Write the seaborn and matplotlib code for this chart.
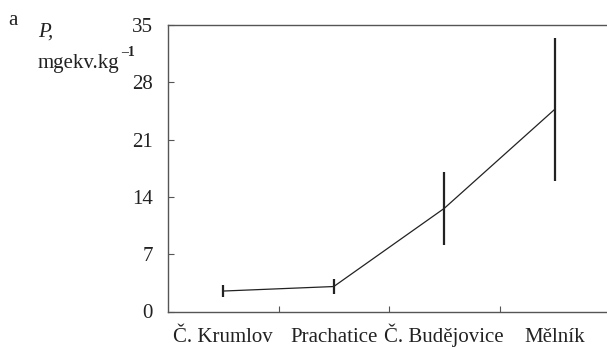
import matplotlib
matplotlib.use("Agg")
import matplotlib.pyplot as plt
import seaborn as sns
import pandas as pd

categories = ["Č. Krumlov", "Prachatice", "Č. Budějovice", "Mělník"]
values = [2.5, 3.05, 12.6, 24.7]
errors = [0.7, 0.9, 4.45, 8.7]
yticks = [0, 7, 14, 21, 28, 35]

sns.set_theme(style="white")
plt.rcParams["font.family"] = ["Liberation Serif", "DejaVu Serif"]

df = pd.DataFrame({"site": categories, "P": values, "err": errors})

W, H = 607, 349
fig = plt.figure(figsize=(W / 100, H / 100), dpi=100)
ax = fig.add_axes([168 / W, (H - 311.5) / H, 442 / W, 286.5 / H])

sns.lineplot(data=df, x="site", y="P", ax=ax, color="#222222", linewidth=0.9,
             sort=False)
xpos = list(range(len(categories)))
ax.errorbar(xpos, df["P"], yerr=df["err"], fmt="none", ecolor="#222222",
            elinewidth=1.6, capsize=0)

ax.set_xlim(-0.5, len(categories) - 0.5)
ax.set_ylim(0, 35)
ax.set_yticks(yticks)
ax.set_yticklabels([str(t) for t in yticks])
ax.set_xticks(xpos)
ax.set_xticklabels(categories, va="baseline")
ax.set_xticks([0.5, 1.5, 2.5], minor=True)
ax.set_xlabel("")
ax.set_ylabel("")

for s in ["left", "bottom", "top"]:
    ax.spines[s].set_visible(True)
    ax.spines[s].set_color("#555555")
    ax.spines[s].set_linewidth(1.0)
ax.spines["right"].set_visible(False)

ax.tick_params(axis="x", which="major", length=0, labelsize=15, pad=22.3,
               colors="#222222")
ax.tick_params(axis="x", which="minor", direction="in", length=4, width=0.8,
               color="#555555", bottom=True)
ax.tick_params(axis="y", direction="in", length=4, width=0.8, color="#555555",
               labelsize=15, pad=11, labelcolor="#222222", left=True)

fig.text(8 / W, 1 - 25 / H, "a", fontsize=15, color="#222222", va="baseline")
fig.text(38 / W, 1 - 37 / H, "P,", fontsize=15, style="italic",
         color="#222222", va="baseline")
unit = fig.text(38 / W, 1 - 68 / H, "mgekv.kg", fontsize=15,
                color="#222222", va="baseline")
fig.canvas.draw()
bb = unit.get_window_extent()
fig.text((bb.x1 + 2) / W, 1 - 56 / H, "–1", fontsize=10, fontweight="bold",
         color="#222222", va="baseline")

fig.savefig("out.png", dpi=100)
